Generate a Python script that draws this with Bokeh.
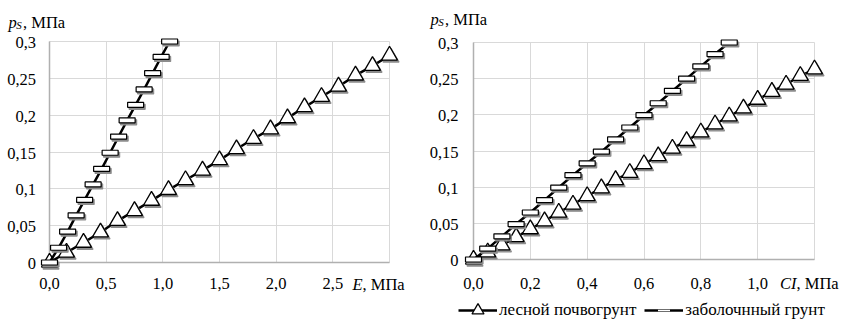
from bokeh.plotting import figure
from bokeh.models import (Range1d, FixedTicker, Grid, Label, Legend, LegendItem,
                          ColumnDataSource)
from bokeh.core.properties import value
from bokeh.transform import dodge
from bokeh.layouts import row
from bokeh.embed import file_html
from bokeh.resources import INLINE

# ---------------- data ----------------
# left chart: p_S versus E
forest_E = [0, 0.15, 0.3, 0.45, 0.6, 0.75, 0.9, 1.05, 1.2, 1.35, 1.5,
            1.65, 1.8, 1.95, 2.1, 2.25, 2.4, 2.55, 2.7, 2.85, 3.0]
forest_E_p = [0, 0.0136, 0.027, 0.041, 0.0566, 0.070, 0.084, 0.0986, 0.112, 0.125, 0.139,
              0.154, 0.168, 0.181, 0.196, 0.211, 0.225, 0.239, 0.254, 0.267, 0.281]
swamp_E = [0, 0.08, 0.16, 0.235, 0.31, 0.385, 0.46, 0.535, 0.61, 0.685, 0.76,
           0.835, 0.91, 0.985, 1.06]
swamp_E_p = [0, 0.02, 0.042, 0.064, 0.085, 0.106, 0.127, 0.149, 0.171, 0.193, 0.214,
             0.235, 0.257, 0.279, 0.3]

# right chart: p_S versus CI
forest_CI = [0, 0.05, 0.1, 0.15, 0.2, 0.25, 0.3, 0.35, 0.4, 0.45, 0.5, 0.55, 0.6,
             0.65, 0.7, 0.75, 0.8, 0.85, 0.9, 0.95, 1.0, 1.05, 1.1, 1.15, 1.2]
forest_CI_p = [0, 0.010, 0.0198, 0.031, 0.042, 0.053, 0.065, 0.076, 0.0878, 0.0986, 0.110,
               0.120, 0.132, 0.143, 0.1535, 0.164, 0.176, 0.187, 0.198, 0.209, 0.221,
               0.232, 0.242, 0.254, 0.263]
swamp_CI = [0, 0.05, 0.1, 0.15, 0.2, 0.25, 0.3, 0.35, 0.4, 0.45, 0.5, 0.55, 0.6,
            0.65, 0.7, 0.75, 0.8, 0.85, 0.9]
swamp_CI_p = [0, 0.015, 0.032, 0.049, 0.065, 0.082, 0.0995, 0.1166, 0.133, 0.149, 0.166,
              0.1825, 0.1995, 0.216, 0.233, 0.25, 0.267, 0.284, 0.3]

y_ticks = [0, 0.05, 0.1, 0.15, 0.2, 0.25, 0.3]
y_tick_labels = ["0", "0,05", "0,1", "0,15", "0,2", "0,25", "0,3"]
E_ticks = [0, 0.5, 1.0, 1.5, 2.0, 2.5, 3.0]
E_tick_labels = ["0,0", "0,5", "1,0", "1,5", "2,0", "2,5", ""]
CI_ticks = [0, 0.2, 0.4, 0.6, 0.8, 1.0, 1.2]
CI_tick_labels = ["0,0", "0,2", "0,4", "0,6", "0,8", "1,0", ""]
legend_labels = ["лесной почвогрунт", "заболочнный грунт"]

FONT = '"Liberation Serif"'
FS = "16.5px"
GRID = "#d9d9d9"
AXIS = "#b0b0b0"
FIG_H = 323


def build(fig_w, box, x_ticks, x_labels, xs_f, ys_f, xs_s, ys_s, ylab_dx, xlab_dy):
    # box: canvas pixel positions of data x=0, x=max, y=max, y=0
    L, R, T, B = box
    xmax = x_ticks[-1]
    ymax = y_ticks[-1]
    kx = (R - L) / xmax
    ky = (B - T) / ymax
    p = figure(width=fig_w, height=FIG_H, output_backend="svg", toolbar_location=None,
               x_range=Range1d(-L / kx, xmax + (fig_w - R) / kx),
               y_range=Range1d(-(FIG_H - B) / ky, ymax + T / ky),
               min_border=0, x_axis_type=None, y_axis_type=None)
    p.outline_line_color = None
    p.background_fill_color = "white"
    p.border_fill_color = "white"

    p.add_layout(Grid(dimension=0, ticker=FixedTicker(ticks=x_ticks), cross_bounds=(0, ymax),
                      grid_line_color=GRID, grid_line_width=1))
    p.add_layout(Grid(dimension=1, ticker=FixedTicker(ticks=y_ticks), cross_bounds=(0, xmax),
                      grid_line_color=GRID, grid_line_width=1))
    p.add_layout(Grid(dimension=0, ticker=FixedTicker(ticks=[x_ticks[0]]), cross_bounds=(0, ymax),
                      grid_line_color=AXIS, grid_line_width=1.5))
    p.add_layout(Grid(dimension=1, ticker=FixedTicker(ticks=[y_ticks[0]]), cross_bounds=(0, xmax),
                      grid_line_color=AXIS, grid_line_width=1.5))

    # tick labels
    p.text(x=[x_ticks[0]] * len(y_ticks), y=y_ticks, text=y_tick_labels,
           x_offset=ylab_dx, y_offset=1, text_align="right", text_baseline="middle",
           text_font=value(FONT), text_font_size=value(FS), text_color="black")
    p.text(x=x_ticks, y=[y_ticks[0]] * len(x_ticks), text=x_labels,
           x_offset=0, y_offset=xlab_dy, text_align="center", text_baseline="alphabetic",
           text_font=value(FONT), text_font_size=value(FS), text_color="black")

    src_f = ColumnDataSource(dict(x=xs_f, y=ys_f))
    src_s = ColumnDataSource(dict(x=xs_s, y=ys_s))
    sx, sy = 1.5 / kx, -2.0 / ky   # small marker shadow offset (2 px)

    lf = p.line("x", "y", source=src_f, line_color="black", line_width=2.5)
    p.scatter(dodge("x", sx), dodge("y", sy), source=src_f, marker="triangle", size=16,
              fill_color="#8c8c8c", line_color="#8c8c8c", line_width=1.3)
    tf = p.scatter("x", "y", source=src_f, marker="triangle", size=16, fill_color="white",
                   line_color="black", line_width=1.3)
    ls = p.line("x", "y", source=src_s, line_color="black", line_width=2.5)
    p.rect(dodge("x", sx), dodge("y", sy), source=src_s, width=16, height=5,
           width_units="screen", height_units="screen",
           fill_color="#8c8c8c", line_color="#8c8c8c", line_width=1.2)
    p.rect("x", "y", source=src_s, width=16, height=5, width_units="screen",
           height_units="screen", fill_color="white", line_color="black", line_width=1.2)
    ds = p.scatter("x", "y", source=src_s, marker="dash", size=10, line_color="white",
                   line_width=1.5)
    return p, (lf, tf, ls, ds), xmax, ymax


def add_titles(p, xmax, ymax, title_dx, title_dy, xname, split_dx, xname_dy):
    common = dict(text_font=FONT, text_baseline="alphabetic", text_color="black")
    # y axis title  p_S, МПа
    p.add_layout(Label(x=0, y=ymax, x_offset=title_dx, y_offset=title_dy, text="p",
                       text_font_style="italic", text_font_size=FS, **common))
    p.add_layout(Label(x=0, y=ymax, x_offset=title_dx + 7.8, y_offset=title_dy - 3, text="S",
                       text_font_style="italic", text_font_size="11px", **common))
    p.add_layout(Label(x=0, y=ymax, x_offset=title_dx + 14.5, y_offset=title_dy, text=", МПа",
                       text_font_size=FS, **common))
    # x axis title: italic symbol ends where ", МПа" begins
    p.add_layout(Label(x=xmax, y=0, x_offset=split_dx, y_offset=xname_dy, text=xname,
                       text_align="right", text_font_style="italic", text_font_size=FS,
                       **common))
    p.add_layout(Label(x=xmax, y=0, x_offset=split_dx, y_offset=xname_dy, text=", МПа",
                       text_align="left", text_font_size=FS, **common))


# left chart (page x 0..420)
p1, r1, xm1, ym1 = build(420, (49, 389, 41, 262), E_ticks, E_tick_labels,
                         forest_E, forest_E_p, swamp_E, swamp_E_p, ylab_dx=-13.5, xlab_dy=21)
add_titles(p1, xm1, ym1, title_dx=-41, title_dy=19.5, xname="E", split_dx=-27, xname_dy=-22)

# right chart (page x 420..841)
p2, r2, xm2, ym2 = build(421, (53, 394, 42, 259), CI_ticks, CI_tick_labels,
                         forest_CI, forest_CI_p, swamp_CI, swamp_CI_p, ylab_dx=-15, xlab_dy=23.5)
add_titles(p2, xm2, ym2, title_dx=-43, title_dy=23.5, xname="CI", split_dx=-18, xname_dy=-24)

lf, tf, ls, ds = r2
legend = Legend(items=[LegendItem(label=legend_labels[0], renderers=[lf, tf]),
                       LegendItem(label=legend_labels[1], renderers=[ls, ds])],
                location=(38, -2), orientation="horizontal",
                glyph_width=39, glyph_height=30, label_standoff=2, spacing=8,
                padding=0, margin=0, border_line_color=None, background_fill_alpha=0,
                label_text_font=FONT, label_text_font_size="17px", label_text_color="black")
p2.add_layout(legend)

layout = row(p1, p2)
open("out.html", "w").write(file_html(layout, INLINE))
